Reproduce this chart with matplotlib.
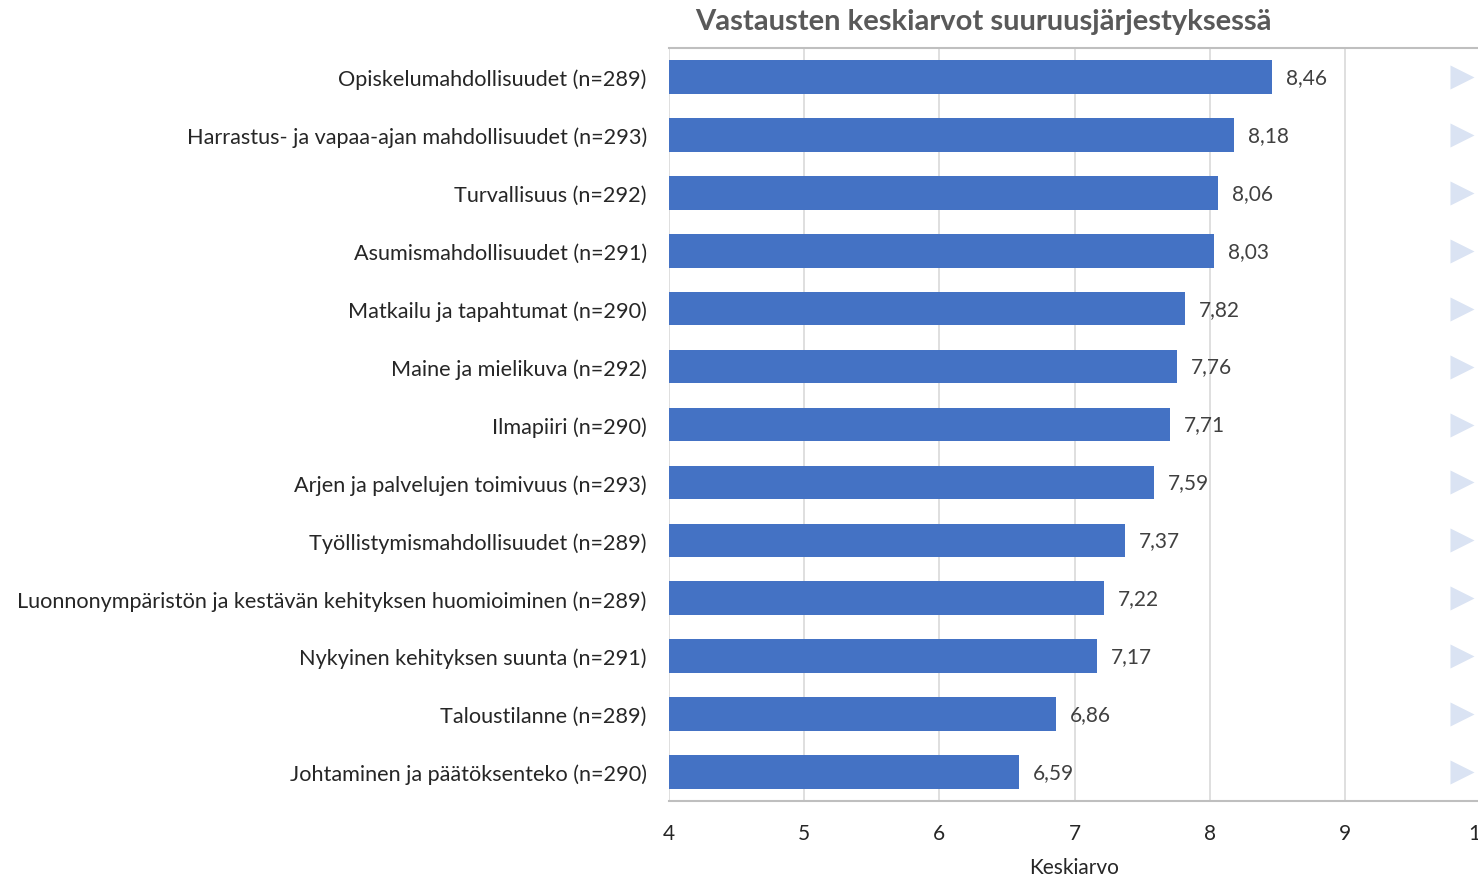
import matplotlib.pyplot as plt

# data
categories = [
    "Opiskelumahdollisuudet (n=289)",
    "Harrastus- ja vapaa-ajan mahdollisuudet (n=293)",
    "Turvallisuus (n=292)",
    "Asumismahdollisuudet (n=291)",
    "Matkailu ja tapahtumat (n=290)",
    "Maine ja mielikuva (n=292)",
    "Ilmapiiri (n=290)",
    "Arjen ja palvelujen toimivuus (n=293)",
    "Työllistymismahdollisuudet (n=289)",
    "Luonnonympäristön ja kestävän kehityksen huomioiminen (n=289)",
    "Nykyinen kehityksen suunta (n=291)",
    "Taloustilanne (n=289)",
    "Johtaminen ja päätöksenteko (n=290)",
]
means = [8.46, 8.18, 8.06, 8.03, 7.82, 7.76, 7.71, 7.59, 7.37, 7.22, 7.17, 6.86, 6.59]
marker_x = [9.87] * len(categories)
xticks = [4, 5, 6, 7, 8, 9, 10]

plt.rcParams['font.family'] = ['Lato', 'DejaVu Sans']

W, H = 1478, 878
fig = plt.figure(figsize=(W / 100, H / 100), dpi=100)
left, right, top, bottom = 669, 1480, 49, 802
ax = fig.add_axes([left / W, 1 - bottom / H, (right - left) / W, (bottom - top) / H])

ypos = list(range(len(categories)))
ax.barh(ypos, means, left=0, height=0.58, color='#4472c4', zorder=3)
ax.scatter(marker_x, ypos, marker='>', s=300, color='#dae3f3', zorder=3, linewidths=0)

for y, v in zip(ypos, means):
    ax.annotate(f"{v:.2f}".replace('.', ','), (v, y), xytext=(10, 0),
                textcoords='offset points', va='center', ha='left',
                fontsize=15, color='#404040')

ax.set_xlim(4, 10)
ax.set_ylim(12.5, -0.5)
ax.set_yticks(ypos)
ax.set_yticklabels(categories, fontsize=15.6, color='#262626')
ax.set_xticks(xticks)
ax.set_xticklabels([str(t) for t in xticks], fontsize=15, color='#262626')
ax.tick_params(axis='both', length=0)
ax.tick_params(axis='y', pad=16)
ax.tick_params(axis='x', pad=16)
ax.grid(axis='x', color='#d9d9d9', linewidth=1.2, zorder=0)
for s in ['left', 'right']:
    ax.spines[s].set_visible(False)
for s in ['top', 'bottom']:
    ax.spines[s].set_color('#bfbfbf')
    ax.spines[s].set_linewidth(1.5)
ax.set_xlabel('Keskiarvo', fontsize=15, color='#262626', labelpad=10)
fig.text(983 / W, 1 - 22 / H, 'Vastausten keskiarvot suuruusjärjestyksessä',
         ha='center', va='center', fontsize=21, fontweight='bold', color='#595959')

fig.savefig('out.png', dpi=100)
